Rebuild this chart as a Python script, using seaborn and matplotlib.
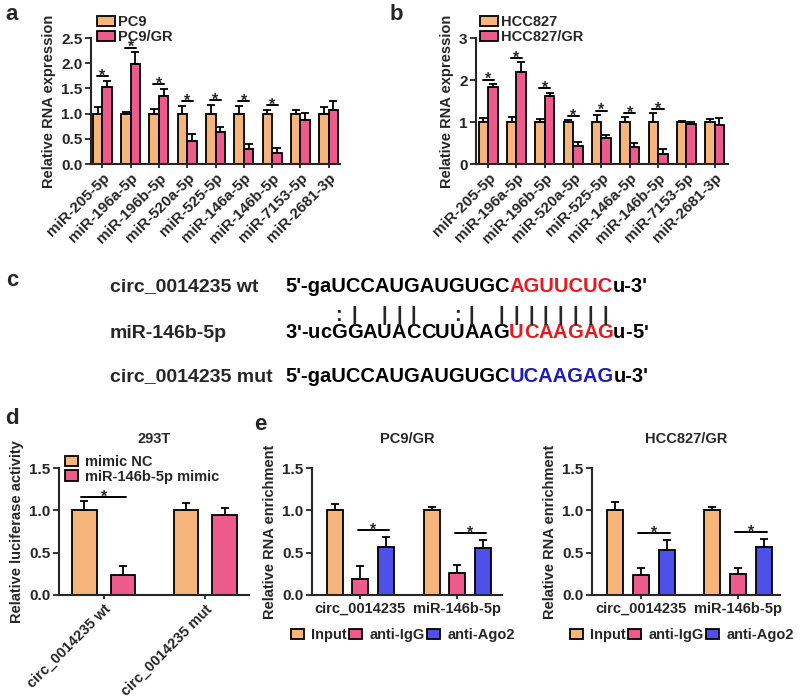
import numpy as np
import pandas as pd
import seaborn as sns
import matplotlib.pyplot as plt
from matplotlib import font_manager

# panel a / b data
mirnas = ['miR-205-5p', 'miR-196a-5p', 'miR-196b-5p', 'miR-520a-5p', 'miR-525-5p',
          'miR-146a-5p', 'miR-146b-5p', 'miR-7153-5p', 'miR-2681-3p']
pc9 = [1.00, 1.00, 1.00, 1.00, 1.00, 1.00, 1.00, 1.00, 1.00]
pc9_err = [0.14, 0.04, 0.09, 0.16, 0.18, 0.16, 0.08, 0.08, 0.14]
pc9gr = [1.52, 1.98, 1.35, 0.46, 0.64, 0.30, 0.22, 0.88, 1.08]
pc9gr_err = [0.13, 0.24, 0.14, 0.13, 0.10, 0.09, 0.09, 0.13, 0.17]

hcc = [1.00, 1.00, 1.00, 1.00, 1.00, 1.00, 1.00, 1.00, 1.00]
hcc_err = [0.10, 0.13, 0.08, 0.04, 0.17, 0.11, 0.21, 0.02, 0.06]
hccgr = [1.83, 2.20, 1.63, 0.43, 0.61, 0.40, 0.24, 0.95, 0.94]
hccgr_err = [0.08, 0.22, 0.07, 0.10, 0.09, 0.11, 0.12, 0.06, 0.15]

# panel d data
reporters = ['circ_0014235 wt', 'circ_0014235 mut']
mimic_nc = [1.00, 1.00]
mimic_nc_err = [0.11, 0.09]
mimic_146b = [0.24, 0.95]
mimic_146b_err = [0.10, 0.08]

# panel e data
rip_targets = ['circ_0014235', 'miR-146b-5p']
pc9gr_input = [1.00, 1.00]
pc9gr_input_err = [0.08, 0.035]
pc9gr_igg = [0.19, 0.26]
pc9gr_igg_err = [0.15, 0.10]
pc9gr_ago2 = [0.57, 0.55]
pc9gr_ago2_err = [0.12, 0.10]
hccgr_input = [1.00, 1.00]
hccgr_input_err = [0.095, 0.035]
hccgr_igg = [0.24, 0.25]
hccgr_igg_err = [0.08, 0.07]
hccgr_ago2 = [0.53, 0.57]
hccgr_ago2_err = [0.12, 0.09]

ORANGE = '#F5B57B'
PINK = '#EC5B8C'
BLUE = '#4F4FEA'

sns.set_theme(style='ticks')
plt.rcParams['font.family'] = ['Liberation Sans', 'DejaVu Sans']
plt.rcParams['font.weight'] = 'bold'
plt.rcParams['axes.labelweight'] = 'bold'
plt.rcParams['axes.titleweight'] = 'bold'

W, H = 800, 697
fig = plt.figure(figsize=(W / 100, H / 100), dpi=100)


def px_axes(l, t, r, b):
    return fig.add_axes([l / W, 1 - b / H, (r - l) / W, (b - t) / H])


def bar_panel(ax, cats, groups, means, errs, colors, width, gap, xlim, ylim, yticks,
              ylabel, stars, star_pad, rot=45, tick_fs=11):
    df = pd.DataFrame({
        'cat': [c for g in groups for c in cats],
        'grp': [g for g in groups for c in cats],
        'val': [v for m in means for v in m],
    })
    sns.barplot(data=df, x='cat', y='val', hue='grp', hue_order=groups,
                palette=dict(zip(groups, colors)), saturation=1, width=width, gap=gap,
                edgecolor='black', linewidth=1.3, errorbar=None, legend=False, ax=ax)
    for cont, er in zip(ax.containers, errs):
        for bar, e in zip(cont, er):
            ax.errorbar(bar.get_x() + bar.get_width() / 2, bar.get_height(),
                        yerr=[[0], [e]], fmt='none', ecolor='black', elinewidth=1.3,
                        capsize=3, capthick=1.3, zorder=3)
    for ci, g1, g2 in stars:
        b1 = ax.containers[g1][ci]
        b2 = ax.containers[g2][ci]
        top = max(b1.get_height() + errs[g1][ci], b2.get_height() + errs[g2][ci])
        x1 = b1.get_x() + b1.get_width() / 2
        x2 = b2.get_x() + b2.get_width() / 2
        y = top + star_pad
        ax.plot([x1 - 0.03, x2 + 0.03], [y, y], color='black', lw=1.4)
        ax.text((x1 + x2) / 2, y, '*', ha='center', va='center', fontsize=11.5,
                fontweight='bold')
    ax.set_xlim(*xlim)
    ax.set_ylim(*ylim)
    ax.set_yticks(yticks)
    ax.set_xlabel('')
    ax.set_ylabel(ylabel, fontsize=10.5)
    sns.despine(ax=ax)
    for s in ['left', 'bottom']:
        ax.spines[s].set_linewidth(1.5)
    ax.tick_params(axis='y', length=4, width=1.3, labelsize=11, pad=2)
    ax.tick_params(axis='x', length=3, width=1.3, labelsize=tick_fs, pad=2)
    for lab in ax.get_yticklabels():
        lab.set_fontweight('bold')
    for lab in ax.get_xticklabels():
        lab.set_fontweight('bold')
        if rot:
            lab.set_rotation(rot)
            lab.set_ha('right')
            lab.set_rotation_mode('anchor')


def legend_at(ax, labels, x, y, ncol=1, hl=1.2, hh=0.7, tp=0.25, cs=0.3):
    ax.legend(ax.containers, labels, loc='upper left', bbox_to_anchor=(x / W, 1 - y / H),
              bbox_transform=fig.transFigure, frameon=False, borderpad=0, borderaxespad=0,
              ncol=ncol, handlelength=hl, handleheight=hh, handletextpad=tp,
              columnspacing=cs, labelspacing=0.05,
              prop={'weight': 'bold', 'size': 10.5})


# a
ax_a = px_axes(91, 38, 340, 164)
bar_panel(ax_a, mirnas, ['PC9', 'PC9/GR'], [pc9, pc9gr], [pc9_err, pc9gr_err],
          [ORANGE, PINK], 0.67, 0, (-0.40, 8.40), (0, 2.5), [0, 0.5, 1.0, 1.5, 2.0, 2.5],
          'Relative RNA expression', [(i, 0, 1) for i in range(7)], 0.09)
legend_at(ax_a, ['PC9', 'PC9/GR'], 97, 15)

# b
ax_b = px_axes(476, 38, 728, 164)
bar_panel(ax_b, mirnas, ['HCC827', 'HCC827/GR'], [hcc, hccgr], [hcc_err, hccgr_err],
          [ORANGE, PINK], 0.67, 0, (-0.43, 8.47), (0, 3), [0, 1, 2, 3],
          'Relative RNA expression', [(i, 0, 1) for i in range(7)], 0.1)
legend_at(ax_b, ['HCC827', 'HCC827/GR'], 480, 15)

# d
ax_d = px_axes(59, 468, 249, 595)
bar_panel(ax_d, reporters, ['mimic NC', 'miR-146b-5p mimic'], [mimic_nc, mimic_146b],
          [mimic_nc_err, mimic_146b_err], [ORANGE, PINK], 0.76, 0.36, (-0.44, 1.43),
          (0, 1.5), [0, 0.5, 1.0, 1.5], 'Relative luciferase activity', [(0, 0, 1)], 0.05,
          tick_fs=10.5)
ax_d.set_title('293T', fontsize=10.5, fontweight='bold', pad=18)
legend_at(ax_d, ['mimic NC', 'miR-146b-5p mimic'], 65, 455, hl=0.9, hh=0.75, tp=0.5)

# e
rip_groups = ['Input', 'anti-IgG', 'anti-Ago2']
ax_e1 = px_axes(312, 468, 502, 595)
bar_panel(ax_e1, rip_targets, rip_groups, [pc9gr_input, pc9gr_igg, pc9gr_ago2],
          [pc9gr_input_err, pc9gr_igg_err, pc9gr_ago2_err], [ORANGE, PINK, BLUE],
          0.80, 0.38, (-0.50, 1.46), (0, 1.5), [0, 0.5, 1.0, 1.5],
          'Relative RNA enrichment', [(0, 1, 2), (1, 1, 2)], 0.08, rot=0, tick_fs=10.5)
ax_e1.set_title('PC9/GR', fontsize=10.5, fontweight='bold', pad=18)
legend_at(ax_e1, rip_groups, 291, 628, ncol=3, hl=0.9, hh=0.75, tp=0.5, cs=0.15)

ax_e2 = px_axes(592, 468, 780, 595)
bar_panel(ax_e2, rip_targets, rip_groups, [hccgr_input, hccgr_igg, hccgr_ago2],
          [hccgr_input_err, hccgr_igg_err, hccgr_ago2_err], [ORANGE, PINK, BLUE],
          0.80, 0.38, (-0.50, 1.43), (0, 1.5), [0, 0.5, 1.0, 1.5],
          'Relative RNA enrichment', [(0, 1, 2), (1, 1, 2)], 0.08, rot=0, tick_fs=10.5)
ax_e2.set_title('HCC827/GR', fontsize=10.5, fontweight='bold', pad=18)
legend_at(ax_e2, rip_groups, 570, 628, ncol=3, hl=0.9, hh=0.75, tp=0.5, cs=0.15)

# c: sequence panel drawn on a full-figure overlay in pixel coordinates
ax_c = fig.add_axes([0, 0, 1, 1])
ax_c.set_xlim(0, W)
ax_c.set_ylim(H, 0)
ax_c.axis('off')

names = [f.name for f in font_manager.fontManager.ttflist]
if 'Liberation Sans Narrow' in names:
    seq_font = dict(family=['Liberation Sans Narrow', 'DejaVu Sans'], fontsize=17,
                    fontweight='bold')
else:
    seq_font = dict(family=['Liberation Sans', 'DejaVu Sans'], fontsize=14.5,
                    fontweight='bold')
lab_font = dict(fontsize=14, fontweight='bold')

RED = '#E8191E'
DBLUE = '#1E1EB4'

row_names = ['circ_0014235 wt', 'miR-146b-5p', 'circ_0014235 mut']
wt_seq = [("5'-gaUCCAUGAUGUGC", 'black'), ('AGUUCUC', RED), ("u-3'", 'black')]
mir_seq = [("3'-ucGGAUACCUUAAG", 'black'), ('UCAAGAG', RED), ("u-5'", 'black')]
mut_seq = [("5'-gaUCCAUGAUGUGC", 'black'), ('UCAAGAG', DBLUE), ("u-3'", 'black')]
pairs = {0: ':', 1: '|', 3: '|', 4: '|', 5: '|', 8: ':', 9: '|',
         11: '|', 12: '|', 13: '|', 14: '|', 15: '|', 16: '|', 17: '|', 18: '|'}

row_y = [287, 333, 377]
SEQ_X = 285
for name, y in zip(row_names, row_y):
    ax_c.text(110, y, name, ha='left', va='center', **lab_font)


def chain(pieces, y, per_char=False):
    chars = []
    prev = None
    for s, col in pieces:
        parts = list(s) if per_char else [s]
        for p in parts:
            if prev is None:
                t = ax_c.text(SEQ_X, y, p, ha='left', va='center', color=col, **seq_font)
            else:
                t = ax_c.annotate(p, xy=(1, 0), xycoords=prev, ha='left', va='bottom',
                                  color=col, **seq_font)
            chars.append(t)
            prev = t
    return chars


chain(wt_seq, row_y[0])
mir_chars = chain(mir_seq, row_y[1], per_char=True)
chain(mut_seq, row_y[2])
for idx, sym in pairs.items():
    ax_c.annotate(sym, xy=(0.5, 1), xycoords=mir_chars[5 + idx], xytext=(0, -1),
                  textcoords='offset points', ha='center', va='bottom', **seq_font)

# panel letters
for letter, x, y in [('a', 12, 14), ('b', 396, 14), ('c', 12, 280), ('d', 12, 418),
                     ('e', 260, 425)]:
    ax_c.text(x, y, letter, ha='center', va='center', fontsize=16, fontweight='bold')

fig.savefig('out.png', dpi=100)
